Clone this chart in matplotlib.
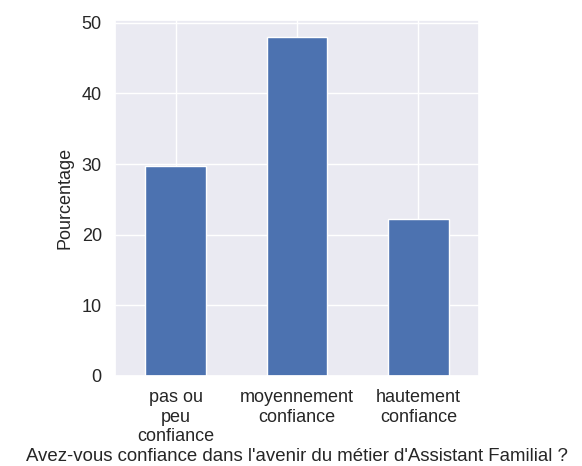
import matplotlib
matplotlib.use("Agg")
import matplotlib.pyplot as plt
import seaborn as sns

# données
categories = ["pas ou\npeu\nconfiance", "moyennement\nconfiance", "hautement\nconfiance"]
pourcentages = [29.8, 48.0, 22.2]

sns.set_theme(style="darkgrid")
plt.rcParams['font.family'] = ['Liberation Sans', 'DejaVu Sans']

fig = plt.figure(figsize=(5.82, 4.66), dpi=100)
ax = fig.add_axes([115 / 582, 1 - 376 / 466, 364 / 582, 356 / 466])

x = range(len(categories))
ax.bar(x, pourcentages, width=0.5, color="#4C72B0")
ax.set_xlim(-0.5, len(categories) - 0.5)
ax.set_ylim(0, 50.4)
ax.set_yticks([0, 10, 20, 30, 40, 50])
ax.set_xticks(list(x))
ax.set_xticklabels(categories, rotation=0, ha="center", multialignment="center")
ax.tick_params(labelsize=13)

ax.set_ylabel("Pourcentage", fontsize=13, labelpad=6)
ax.set_xlabel("Avez-vous confiance dans l'avenir du métier d'Assistant Familial ?",
              fontsize=13.4, labelpad=2)

fig.savefig("out.png", dpi=100)
